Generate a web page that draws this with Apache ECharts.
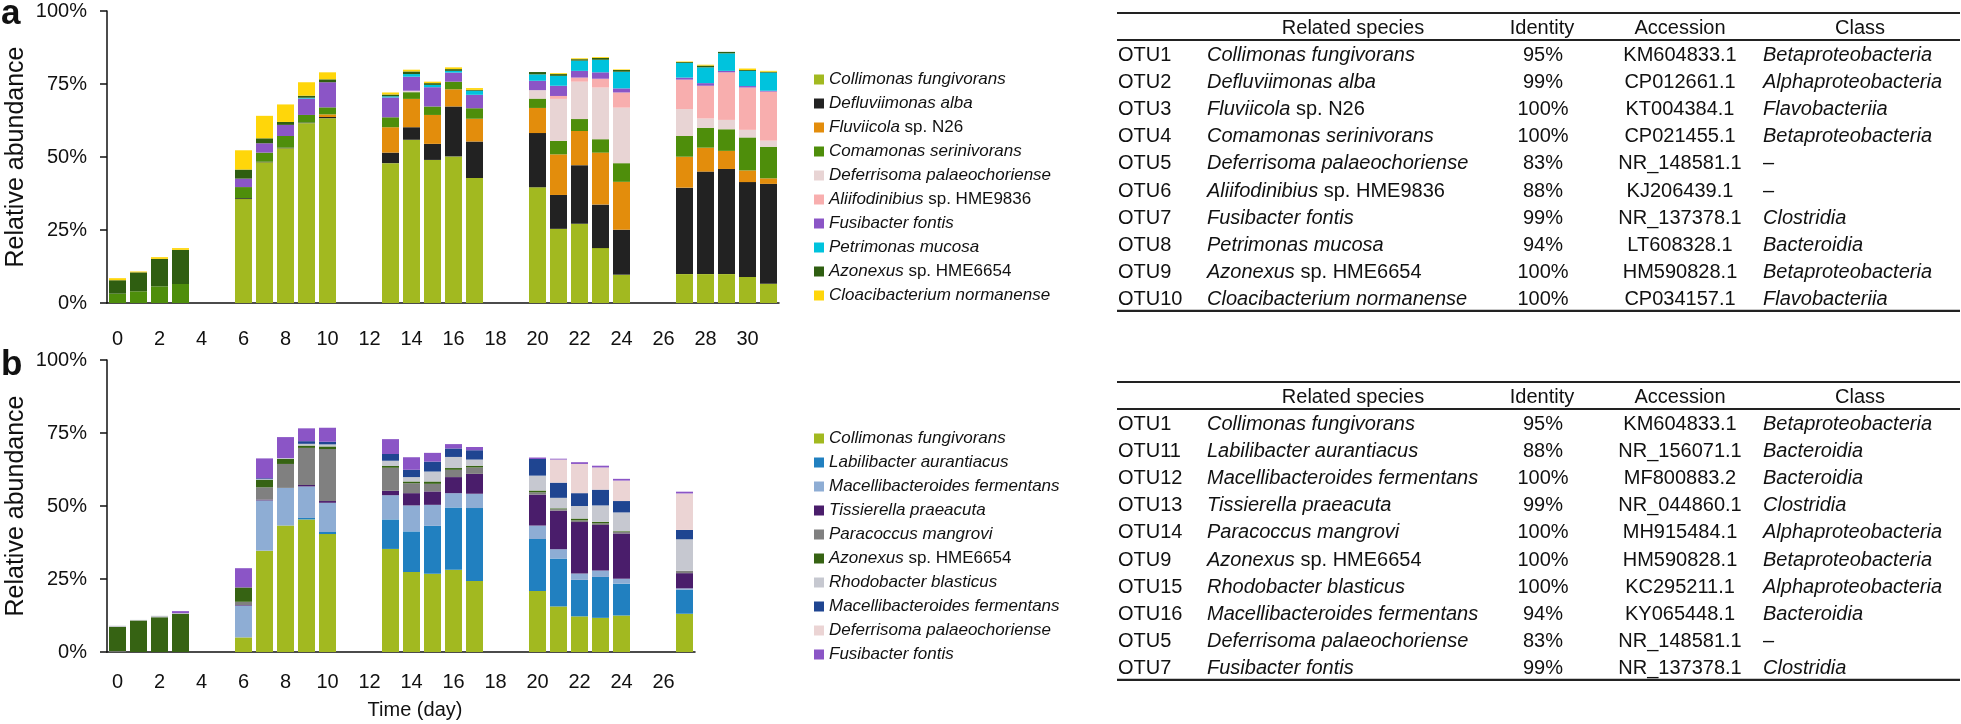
<!DOCTYPE html>
<html><head><meta charset="utf-8">
<script src="https://cdn.jsdelivr.net/npm/echarts@6/dist/echarts.min.js"></script>
<style>html,body{margin:0;padding:0;background:#fff}#c{width:1961px;height:724px}</style>
</head><body><div id="c"></div>
<script>
// ---------- Panel a data (days 0..31) ----------
const daysA = Array.from({length: 32}, (_, i) => String(i));
const n = null;
const aCollimonas      = [0,0,0,0,n,n,35.6,48.2,53.0,61.6,63.3,n,n,47.9,55.9,49.0,50.2,42.8,n,n,39.6,25.4,27.1,18.8,9.7,n,n,9.9,9.9,9.9,8.9,6.6];
const aDefluviimonas   = [0,0,0,0,n,n,0.3,0.2,0.2,0.2,0.4,n,n,3.6,4.3,5.5,17.1,12.5,n,n,18.6,11.6,20.1,14.9,15.4,n,n,29.6,35.1,36.0,32.5,34.2];
const aFluviicola      = [0,0,0,0,n,n,0,0,0,0,0.9,n,n,8.7,9.7,9.9,5.9,7.8,n,n,8.6,13.9,11.7,17.8,16.4,n,n,10.6,8.2,6.2,4.0,1.9];
const aComamonas       = [3.2,4.0,5.7,6.5,n,n,3.8,3.1,4.0,2.6,2.4,n,n,3.4,2.3,2.9,2.6,3.6,n,n,3.2,4.6,4.1,4.6,6.4,n,n,7.1,6.8,7.4,11.3,10.8];
const aDeferrisoma     = [0,0,0,0,n,n,0,0,0,0,0,n,n,0,0.5,0,0,0,n,n,2.9,14.4,12.8,17.7,19.0,n,n,9.2,3.2,3.2,2.6,2.1];
const aAliifodinibius  = [0,0,0,0,n,n,0,0,0,0,0,n,n,0,0,0,0,0,n,n,0,1.0,1.4,3.0,5.2,n,n,10.1,11.2,16.3,14.5,16.8];
const aFusibacter      = [0,0,0,0,n,n,2.9,3.2,3.8,5.6,8.6,n,n,6.8,4.8,6.6,3.1,4.6,n,n,3.2,3.5,2.3,2.2,1.4,n,n,0.7,0.9,0.5,0.5,0.3];
const aPetrimonas      = [0,0,0,0,n,n,0,0,0,0.3,0,n,n,0.4,0.9,0.8,0.6,1.4,n,n,2.2,3.4,3.5,4.3,5.7,n,n,5.0,5.4,6.0,5.2,6.2];
const aAzonexus        = [4.6,6.5,9.4,11.7,n,n,3.1,1.7,1.0,0.7,1.0,n,n,0.6,0.9,0.6,0.6,0.3,n,n,0.8,0.6,0.5,0.6,0.6,n,n,0.3,0.6,0.5,0.3,0.3];
const aCloacibacterium = [0.7,0.3,0.6,0.6,n,n,6.6,7.7,6.0,4.6,2.4,n,n,0.7,0.6,0.5,0.6,0.6,n,n,0,0.3,0.3,0.3,0.2,n,n,0.2,0.3,0,0.5,0.3];

const namesA = ["Collimonas fungivorans","Defluviimonas alba","Fluviicola sp. N26","Comamonas serinivorans",
  "Deferrisoma palaeochoriense","Aliifodinibius sp. HME9836","Fusibacter fontis","Petrimonas mucosa",
  "Azonexus sp. HME6654","Cloacibacterium normanense"];
const valuesA = [aCollimonas,aDefluviimonas,aFluviicola,aComamonas,aDeferrisoma,aAliifodinibius,aFusibacter,aPetrimonas,aAzonexus,aCloacibacterium];
const colorsA = ["#A2B920","#222222","#E38D0C","#4E8E0B","#E8D4D4","#F8AEAE","#8B55C6","#00C3DD","#2F5E11","#FFD60A"];

// ---------- Panel b data (days 0..27) ----------
const daysB = Array.from({length: 28}, (_, i) => String(i));
const bCollimonas   = [0,0,0,0,n,n,5.0,34.7,43.3,45.4,40.4,n,n,35.3,27.4,26.8,28.2,24.3,n,n,20.9,15.6,12.2,11.7,12.5,n,n,13.1];
const bLabilibacter = [0,0,0,0,n,n,0,0,0,0.5,0.7,n,n,10.1,13.9,16.4,21.3,25.0,n,n,17.8,16.4,12.5,14.0,10.9,n,n,8.2];
const bMacell12     = [0,0,0,0,n,n,10.9,17.2,12.9,10.8,10.0,n,n,8.3,8.9,7.2,4.9,4.9,n,n,4.6,3.2,2.2,2.2,1.7,n,n,0.5];
const bTissierella  = [0,0,0,0,n,n,0.2,0.3,0,0.5,0.6,n,n,1.5,4.2,4.6,5.5,6.8,n,n,10.6,13.2,17.6,15.6,15.5,n,n,5.2];
const bParacoccus   = [0.3,0,0,0,n,n,1.1,4.2,8.2,12.7,17.8,n,n,7.9,3.4,2.6,2.5,2.2,n,n,0.8,0.5,0.6,0.6,0.6,n,n,0.8];
const bAzonexus     = [8.3,10.8,11.9,13.1,n,n,4.9,2.5,1.7,0.8,0.9,n,n,0.6,0.6,0.8,0.6,0.6,n,n,0.6,0.3,0.6,0.5,0.2,n,n,0];
const bRhodobacter  = [0.4,0.2,0.5,0.2,n,n,0,0.3,0.3,0.6,0.7,n,n,1.8,1.5,3.4,3.8,2.1,n,n,5.1,3.6,4.3,5.6,6.4,n,n,10.8];
const bMacell16     = [0,0,0,0,n,n,0,0.3,0,0.9,0.9,n,n,2.3,2.5,3.4,2.9,3.2,n,n,5.7,5.2,4.4,5.4,3.9,n,n,3.2];
const bDeferrisoma  = [0,0,0,0,n,n,0,0,0,0,0,n,n,0,0,0,0,0,n,n,0,7.9,10.0,7.6,7.0,n,n,12.5];
const bFusibacter   = [0,0,0,0.7,n,n,6.6,6.8,7.2,4.4,4.8,n,n,5.1,4.3,3.0,1.5,1.1,n,n,0.5,0.3,0.6,0.6,0.6,n,n,0.6];

const namesB = ["Collimonas fungivorans","Labilibacter aurantiacus","Macellibacteroides fermentans","Tissierella praeacuta",
  "Paracoccus mangrovi","Azonexus sp. HME6654","Rhodobacter blasticus","Macellibacteroides fermentans",
  "Deferrisoma palaeochoriense","Fusibacter fontis"];
const valuesB = [bCollimonas,bLabilibacter,bMacell12,bTissierella,bParacoccus,bAzonexus,bRhodobacter,bMacell16,bDeferrisoma,bFusibacter];
const colorsB = ["#A2B920","#2180C0","#8EADD4","#4A1D6B","#808080","#366313","#C6C8D0","#1F4591","#EBD4D4","#8B55C6"];

const yTicks = [0, 25, 50, 75, 100];

// ---------- Tables ----------
const tabHeader = ["Related species","Identity","Accession","Class"];
const otuA = ["OTU1","OTU2","OTU3","OTU4","OTU5","OTU6","OTU7","OTU8","OTU9","OTU10"];
const spA = ["Collimonas fungivorans","Defluviimonas alba","Fluviicola sp. N26","Comamonas serinivorans","Deferrisoma palaeochoriense",
  "Aliifodinibius sp. HME9836","Fusibacter fontis","Petrimonas mucosa","Azonexus sp. HME6654","Cloacibacterium normanense"];
const idA = ["95%","99%","100%","100%","83%","88%","99%","94%","100%","100%"];
const accA = ["KM604833.1","CP012661.1","KT004384.1","CP021455.1","NR_148581.1","KJ206439.1","NR_137378.1","LT608328.1","HM590828.1","CP034157.1"];
const clsA = ["Betaproteobacteria","Alphaproteobacteria","Flavobacteriia","Betaproteobacteria","–","–","Clostridia","Bacteroidia","Betaproteobacteria","Flavobacteriia"];
const otuB = ["OTU1","OTU11","OTU12","OTU13","OTU14","OTU9","OTU15","OTU16","OTU5","OTU7"];
const spB = ["Collimonas fungivorans","Labilibacter aurantiacus","Macellibacteroides fermentans","Tissierella praeacuta","Paracoccus mangrovi",
  "Azonexus sp. HME6654","Rhodobacter blasticus","Macellibacteroides fermentans","Deferrisoma palaeochoriense","Fusibacter fontis"];
const idB = ["95%","88%","100%","99%","100%","100%","100%","94%","83%","99%"];
const accB = ["KM604833.1","NR_156071.1","MF800883.2","NR_044860.1","MH915484.1","HM590828.1","KC295211.1","KY065448.1","NR_148581.1","NR_137378.1"];
const clsB = ["Betaproteobacteria","Bacteroidia","Bacteroidia","Clostridia","Alphaproteobacteria","Betaproteobacteria","Alphaproteobacteria","Bacteroidia","–","Clostridia"];

// ---------- helpers ----------
const FF = "Liberation Sans, Arial, Helvetica, sans-serif";
function richName(s) {
  const k = s.indexOf(" sp. ");
  if (k >= 0) return "{i|" + s.slice(0, k) + "}{n| " + s.slice(k + 1) + "}";
  return "{i|" + s + "}";
}
function richCls(s) { return s === "–" ? "{n|" + s + "}" : "{i|" + s + "}"; }

const series = [];
namesA.forEach((nm, k) => series.push({
  type: "bar", name: "A" + k, stack: "a", xAxisIndex: 0, yAxisIndex: 0,
  data: valuesA[k], barWidth: 17, itemStyle: { color: colorsA[k] }
}));
namesB.forEach((nm, k) => series.push({
  type: "bar", name: "B" + k, stack: "b", xAxisIndex: 1, yAxisIndex: 1,
  data: valuesB[k], barWidth: 17, itemStyle: { color: colorsB[k] }
}));

function legendRich(sz) {
  return {
    i: { fontStyle: "italic", fontSize: sz, fontFamily: FF, color: "#111" },
    n: { fontStyle: "normal", fontSize: sz, fontFamily: FF, color: "#111" }
  };
}
function makeLegend(prefix, names, top) {
  return {
    data: names.map((_, k) => prefix + k), orient: "vertical", left: 809, top: top,
    icon: "rect", itemWidth: 10, itemHeight: 10, itemGap: 7, selectedMode: false,
    formatter: nm => richName(names[+nm.slice(1)]),
    textStyle: { fontSize: 17, fontFamily: FF, color: "#111", rich: legendRich(17) }
  };
}

function xAx(grid, cats, margin) {
  return {
    type: "category", gridIndex: grid, data: cats,
    axisLine: { lineStyle: { color: "#111", width: 1.5 } },
    axisTick: { show: false },
    axisLabel: { interval: 1, margin: margin, fontSize: 20, fontFamily: FF, color: "#111" }
  };
}
function yAx(grid) {
  return {
    type: "value", gridIndex: grid, min: yTicks[0], max: yTicks[yTicks.length - 1], interval: 25,
    name: "Relative abundance", nameLocation: "middle", nameGap: 78,
    nameTextStyle: { fontSize: 25, fontFamily: FF, color: "#111" },
    axisLine: { show: true, lineStyle: { color: "#111", width: 1.5 } },
    axisTick: { show: true, length: 7, lineStyle: { color: "#111", width: 1.5 } },
    splitLine: { show: false },
    axisLabel: { formatter: "{value}%", margin: 20, fontSize: 20, fontFamily: FF, color: "#111" }
  };
}

// table graphics
function tableGraphics(top, otu, sp, id, acc, cls) {
  const g = [];
  const x1 = 1117, x2 = 1960, fs = 20;
  const rich = {
    i: { fontStyle: "italic", fontSize: fs, fontFamily: FF, fill: "#111" },
    n: { fontStyle: "normal", fontSize: fs, fontFamily: FF, fill: "#111" }
  };
  const line = (y, w) => ({ type: "line", shape: { x1: x1, y1: y, x2: x2, y2: y }, style: { stroke: "#222", lineWidth: w } });
  const txt = (x, y, t, align) => ({ type: "text", x: x, y: y,
    style: { text: t, rich: rich, font: fs + "px " + FF, fill: "#111", align: align, verticalAlign: "middle" } });
  g.push(line(top, 2.2));
  const hy = top + 15;
  g.push(txt(1353, hy, tabHeader[0], "center"));
  g.push(txt(1542, hy, tabHeader[1], "center"));
  g.push(txt(1680, hy, tabHeader[2], "center"));
  g.push(txt(1860, hy, tabHeader[3], "center"));
  g.push(line(top + 27, 1.8));
  const r0 = top + 42, dy = 27.2;
  otu.forEach((o, k) => {
    const y = r0 + k * dy;
    g.push(txt(1118, y, o, "left"));
    g.push(txt(1207, y, richName(sp[k]), "left"));
    g.push(txt(1543, y, id[k], "center"));
    g.push(txt(1680, y, acc[k], "center"));
    g.push(txt(1763, y, richCls(cls[k]), "left"));
  });
  g.push(line(r0 + 9 * dy + 11, 2.2));
  return g;
}

const graphics = [
  { type: "text", x: 1, y: 14, style: { text: "a", font: "bold 35px " + FF, fill: "#111", align: "left", verticalAlign: "middle" } },
  { type: "text", x: 1, y: 365, style: { text: "b", font: "bold 35px " + FF, fill: "#111", align: "left", verticalAlign: "middle" } },
  { type: "text", x: 415, y: 710, style: { text: "Time (day)", font: "20px " + FF, fill: "#111", align: "center", verticalAlign: "middle" } }
].concat(tableGraphics(13, otuA, spA, idA, accA, clsA))
 .concat(tableGraphics(382, otuB, spB, idB, accB, clsB));

const chart = echarts.init(document.getElementById("c"), null, { renderer: "canvas" });
chart.setOption({
  backgroundColor: "#fff",
  animation: false,
  grid: [
    { left: 107, top: 11, width: 672, height: 292 },
    { left: 107, top: 360, width: 588, height: 292 }
  ],
  xAxis: [xAx(0, daysA, 26), xAx(1, daysB, 20)],
  yAxis: [yAx(0), yAx(1)],
  legend: [makeLegend("A", namesA, 66), makeLegend("B", namesB, 425)],
  series: series,
  graphic: graphics
});
</script>
</body></html>
